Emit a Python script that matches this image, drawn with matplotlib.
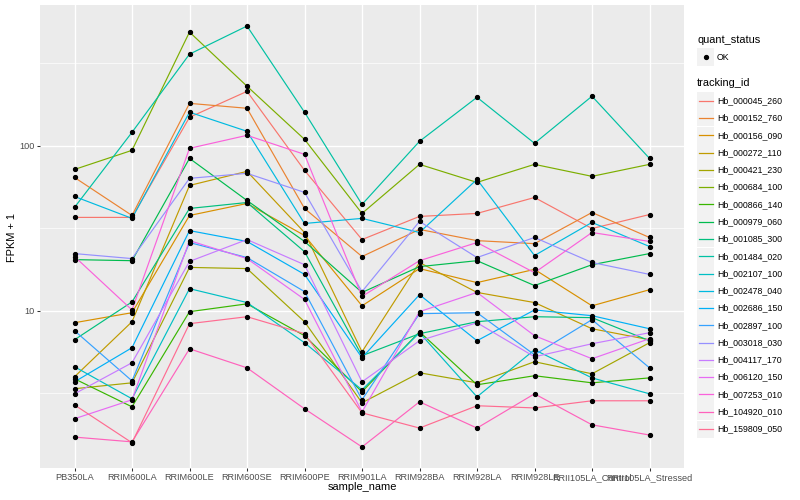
import numpy as np
import matplotlib
matplotlib.use('Agg')
import matplotlib.pyplot as plt
from matplotlib.patches import Rectangle
from matplotlib.lines import Line2D

plt.rcParams['font.family'] = ['Liberation Sans', 'DejaVu Sans']

samples = ['PB350LA', 'RRIM600LA', 'RRIM600LE', 'RRIM600SE', 'RRIM600PE', 'RRIM901LA',
           'RRIM928BA', 'RRIM928LA', 'RRIM928LE', 'RRII105LA_Control', 'RRII105LA_Stressed']

tracking_ids = ['Hb_000045_260', 'Hb_000152_760', 'Hb_000156_090', 'Hb_000272_110',
                'Hb_000421_230', 'Hb_000684_100', 'Hb_000866_140', 'Hb_000979_060',
                'Hb_001085_300', 'Hb_001484_020', 'Hb_002107_100', 'Hb_002478_040',
                'Hb_002686_150', 'Hb_002897_100', 'Hb_003018_030', 'Hb_004117_170',
                'Hb_006120_150', 'Hb_007253_010', 'Hb_104920_010', 'Hb_159809_050']

# FPKM + 1, one list per gene (sample order as above)
hb_000045_260 = [36.8, 36.8, 149.0, 214.0, 71.0, 27.0, 37.3, 38.9, 48.6, 31.5, 38.3]
hb_000152_760 = [64.3, 37.8, 181.0, 169.0, 41.7, 21.3, 31.1, 26.6, 25.5, 39.4, 27.8]
hb_000156_090 = [8.45, 9.72, 37.8, 44.7, 28.6, 10.7, 18.0, 14.8, 17.8, 10.7, 13.4]
hb_000272_110 = [3.97, 8.57, 57.5, 70.0, 29.8, 5.63, 19.6, 12.9, 11.2, 7.77, 6.66]
hb_000421_230 = [3.36, 3.65, 18.3, 18.0, 8.57, 2.76, 4.20, 3.65, 4.90, 4.14, 6.39]
hb_000684_100 = [71.9, 93.9, 490.0, 230.0, 109.5, 38.9, 77.2, 60.0, 77.2, 65.3, 77.2]
hb_000866_140 = [3.86, 2.61, 9.86, 11.0, 7.05, 3.22, 7.45, 3.55, 4.03, 3.65, 3.91]
hb_000979_060 = [20.4, 20.1, 83.9, 46.6, 26.3, 12.9, 18.5, 20.1, 14.2, 19.0, 22.2]
hb_001085_300 = [6.66, 11.3, 41.7, 45.3, 22.8, 5.33, 7.25, 8.57, 9.19, 9.07, 6.57]
hb_001484_020 = [42.3, 120.8, 360.0, 533.0, 160.0, 44.1, 106.5, 197.0, 103.6, 200.0, 83.9]
hb_002107_100 = [4.57, 2.92, 13.6, 11.2, 6.39, 3.31, 7.35, 3.00, 5.79, 3.91, 3.13]
hb_002478_040 = [49.3, 36.3, 160.0, 122.5, 33.8, 36.3, 29.8, 62.6, 21.6, 34.3, 24.5]
hb_002686_150 = [3.70, 5.96, 30.6, 26.3, 16.6, 5.18, 12.5, 6.57, 10.1, 9.32, 7.77]
hb_002897_100 = [7.56, 3.75, 25.9, 21.0, 13.05, 2.88, 9.59, 9.72, 5.40, 8.82, 4.50]
hb_003018_030 = [22.2, 20.7, 63.5, 68.1, 52.2, 13.05, 34.8, 21.0, 27.8, 19.6, 16.6]
hb_004117_170 = [3.13, 4.83, 19.9, 27.0, 19.0, 3.70, 6.57, 8.45, 5.25, 6.30, 7.35]
hb_006120_150 = [2.21, 2.88, 26.6, 20.7, 11.7, 2.43, 9.86, 12.9, 7.05, 5.11, 6.76]
hb_007253_010 = [21.3, 10.1, 96.6, 115.8, 88.8, 12.2, 20.1, 25.9, 17.0, 29.8, 26.3]
hb_104920_010 = [1.71, 1.60, 5.87, 4.50, 2.54, 1.49, 2.80, 1.94, 3.13, 2.03, 1.76]
hb_159809_050 = [2.68, 1.58, 8.34, 9.19, 7.25, 2.40, 1.94, 2.65, 2.57, 2.84, 2.84]

series = [hb_000045_260, hb_000152_760, hb_000156_090, hb_000272_110, hb_000421_230,
          hb_000684_100, hb_000866_140, hb_000979_060, hb_001085_300, hb_001484_020,
          hb_002107_100, hb_002478_040, hb_002686_150, hb_002897_100, hb_003018_030,
          hb_004117_170, hb_006120_150, hb_007253_010, hb_104920_010, hb_159809_050]

# ggplot hue palette for 20 levels
colors = ['#F8766D', '#EA8331', '#D89000', '#C09B00', '#A3A500', '#7CAE00', '#39B600',
          '#00BB4E', '#00BF7D', '#00C1A3', '#00BFC4', '#00BAE0', '#00B0F6', '#35A2FF',
          '#9590FF', '#C77CFF', '#E76BF3', '#FA62DB', '#FF62BC', '#FF6C91']

W, H = 800, 500
fig = plt.figure(figsize=(W / 100, H / 100), dpi=100)
ax = fig.add_axes([40 / W, 1 - 468 / H, 644 / W, 463 / H])


def fx(x):
    return x / W


def fy(y):
    return 1 - y / H


x = np.arange(1, len(samples) + 1)
for vals, col in zip(series, colors):
    ax.plot(x, vals, color=col, lw=0.85, zorder=3)
for vals in series:
    ax.plot(x, vals, 'o', color='black', ms=2.8, zorder=4)

ax.set_yscale('log')
allv = np.log10(np.concatenate([np.array(s) for s in series]))
lo, hi = allv.min(), allv.max()
pad = 0.05 * (hi - lo)
ax.set_ylim(10 ** (lo - pad), 10 ** (hi + pad))
ax.set_xlim(0.4, len(samples) + 0.6)

ax.set_facecolor('#EBEBEB')
for s in ax.spines.values():
    s.set_visible(False)

ax.set_yticks([10, 100])
ax.set_yticklabels(['10', '100'])
ax.set_yticks([10 ** 0.5, 10 ** 1.5, 10 ** 2.5], minor=True)
ax.yaxis.set_minor_formatter(matplotlib.ticker.NullFormatter())
ax.set_xticks(x)
ax.set_xticklabels(samples)
ax.tick_params(which='major', length=2.0, width=0.75, color='#333333',
               labelcolor='#4D4D4D', labelsize=6.6, pad=1.8)
ax.tick_params(which='minor', length=0)
ax.grid(which='major', color='white', lw=1.0, zorder=0)
ax.grid(which='minor', axis='y', color='white', lw=0.5, zorder=0)
ax.set_axisbelow(True)

fig.text(fx(362), fy(487), 'sample_name', ha='center', va='center', fontsize=7.9)
fig.text(fx(12), fy(237), 'FPKM + 1', ha='center', va='center', rotation=90, fontsize=7.9)

# legends
fig.text(fx(697), fy(40), 'quant_status', ha='left', va='center', fontsize=7.9)
fig.add_artist(Rectangle((fx(697), fy(65.5)), 17 / W, 17 / H, transform=fig.transFigure,
                         facecolor='#F2F2F2', edgecolor='none'))
fig.add_artist(Line2D([fx(705.5)], [fy(57)], marker='o', color='black', ms=2.8,
                      transform=fig.transFigure))
fig.text(fx(717), fy(57), 'OK', ha='left', va='center', fontsize=6.3)

fig.text(fx(697), fy(83), 'tracking_id', ha='left', va='center', fontsize=7.9)
for i, (tid, col) in enumerate(zip(tracking_ids, colors)):
    yc = 100.7 + i * 17.28
    fig.add_artist(Rectangle((fx(697), fy(yc + 8.5)), 17 / W, 17 / H, transform=fig.transFigure,
                             facecolor='#F2F2F2', edgecolor='none'))
    fig.add_artist(Line2D([fx(698.5), fx(712.5)], [fy(yc), fy(yc)], color=col, lw=0.9,
                          transform=fig.transFigure))
    fig.text(fx(717), fy(yc), tid, ha='left', va='center', fontsize=6.3)

fig.savefig('out.png', dpi=100)
